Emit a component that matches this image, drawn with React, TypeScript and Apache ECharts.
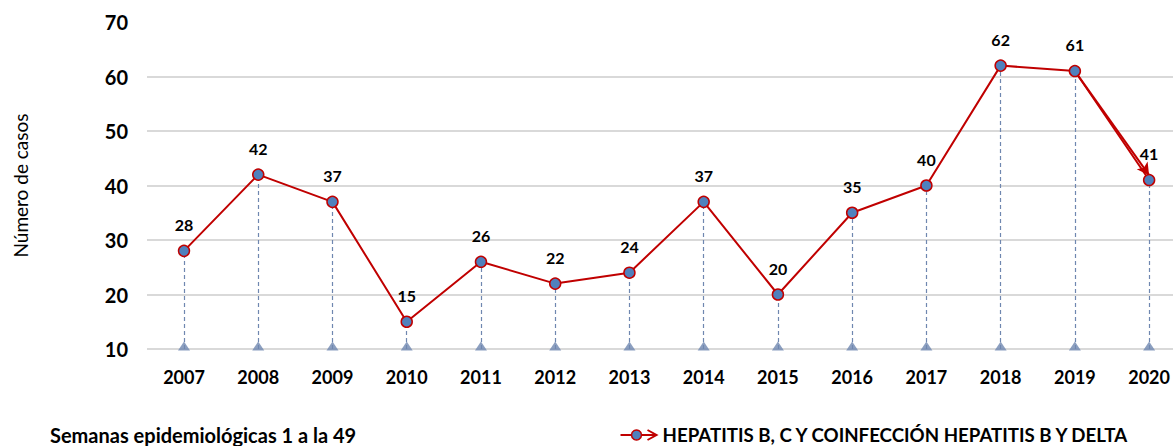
import React, { useEffect, useRef } from "react";
import * as echarts from "echarts";

const years = ["2007", "2008", "2009", "2010", "2011", "2012", "2013", "2014", "2015", "2016", "2017", "2018", "2019", "2020"];
const casos = [28, 42, 37, 15, 26, 22, 24, 37, 20, 35, 40, 62, 61, 41];
const baseline = years.map(() => 10);
const seriesName = "HEPATITIS B, C Y COINFECCIÓN HEPATITIS B Y DELTA";
const footnote = "Semanas epidemiológicas 1 a la 49";
const yAxisTitle = "Número de casos";

const FONT = "Lato, 'Noto Sans', sans-serif";
const RED = "#c00000";
const BLUE = "#4f81bd";
const DROP = "#6f87b0";

export default function App() {
  const ref = useRef<HTMLDivElement>(null);
  useEffect(() => {
    const chart = echarts.init(ref.current!, null, { renderer: "svg" });
    const n = casos.length;
    chart.setOption({
      animation: false,
      textStyle: { fontFamily: FONT },
      grid: [
        { left: 147, right: 0, top: 22, bottom: 97, containLabel: false },
        { left: 184, right: 22, top: 22, bottom: 97, containLabel: false },
      ],
      xAxis: [
        { type: "category", gridIndex: 0, data: years, show: false },
        {
          type: "category",
          gridIndex: 1,
          data: years,
          boundaryGap: false,
          axisLine: { show: false },
          axisTick: { show: false },
          splitLine: { show: false },
          axisLabel: { color: "#000", fontWeight: "bold", fontSize: 18, margin: 19, fontFamily: FONT },
        },
      ],
      yAxis: [
        {
          type: "value",
          gridIndex: 0,
          min: 10,
          max: 70,
          interval: 10,
          name: yAxisTitle,
          nameLocation: "middle",
          nameGap: 117,
          nameRotate: 90,
          nameTextStyle: { color: "#000", fontSize: 19, fontFamily: FONT },
          axisLine: { show: false },
          axisTick: { show: false },
          axisLabel: { color: "#000", fontWeight: "bold", fontSize: 20, margin: 19, fontFamily: FONT },
          splitLine: {
            show: true,
            lineStyle: { color: ["#d9d9d9", "#d9d9d9", "#d9d9d9", "#d9d9d9", "#d9d9d9", "#d9d9d9", "transparent"], width: 2 },
          },
        },
        {
          type: "value",
          gridIndex: 1,
          min: 10,
          max: 70,
          interval: 10,
          show: false,
          splitLine: { show: false },
        },
      ],
      series: [
        {
          type: "scatter",
          xAxisIndex: 1,
          yAxisIndex: 1,
          data: baseline,
          symbol: "triangle",
          symbolSize: [12, 9],
          symbolOffset: [0, -3],
          itemStyle: { color: DROP },
          z: 3,
          silent: true,
        },
        {
          name: seriesName,
          type: "line",
          xAxisIndex: 1,
          yAxisIndex: 1,
          data: casos,
          symbol: "circle",
          symbolSize: 11,
          lineStyle: { color: RED, width: 2 },
          itemStyle: { color: BLUE, borderColor: RED, borderWidth: 1.5 },
          label: {
            show: true,
            position: "top",
            distance: 12,
            color: "#000",
            fontWeight: "bold",
            fontSize: 16,
            fontFamily: FONT,
          },
          z: 5,
          markLine: {
            silent: true,
            symbol: ["none", "none"],
            label: { show: false },
            lineStyle: { color: DROP, type: [4, 3], width: 1.2 },
            data: casos.map((v, i) => [
              { coord: [years[i], 10] },
              { coord: [years[i], v] },
            ]),
            z: 2,
          },
        },
        {
          type: "line",
          xAxisIndex: 1,
          yAxisIndex: 1,
          data: [],
          silent: true,
          markLine: {
            silent: true,
            symbol: ["none", "arrow"],
            symbolSize: [10, 12],
            label: { show: false },
            lineStyle: { color: RED, type: "solid", width: 2 },
            data: [[{ coord: [years[n - 2], casos[n - 2]] }, { coord: [years[n - 1], casos[n - 1] + 0.9] }]],
          },
          z: 4,
        },
      ],
      graphic: [
        {
          type: "text",
          left: 50,
          top: 425,
          style: { text: footnote, fontSize: 20, fontWeight: "bold", fill: "#000", fontFamily: FONT },
        },
        {
          type: "group",
          left: 618,
          top: 425,
          children: [
            { type: "line", shape: { x1: 0, y1: 10, x2: 22, y2: 10 }, style: { stroke: RED, lineWidth: 2 } },
            { type: "circle", shape: { cx: 16, cy: 10, r: 5 }, style: { fill: BLUE, stroke: RED, lineWidth: 1.5 } },
            { type: "line", shape: { x1: 21, y1: 10, x2: 35, y2: 10 }, style: { stroke: RED, lineWidth: 2 } },
            { type: "polyline", shape: { points: [[27, 5], [36, 10], [27, 15]] }, style: { stroke: RED, fill: "none", lineWidth: 2 } },
            {
              type: "text",
              x: 42,
              y: 0,
              style: { text: seriesName, fontSize: 18.7, fontWeight: "bold", fill: "#000", fontFamily: FONT },
            },
          ],
        },
      ],
    });
    return () => chart.dispose();
  }, []);
  return (
    <div
      ref={ref}
      style={{ position: "fixed", left: 0, top: 0, width: 1173, height: 446, background: "#fff" }}
    />
  );
}
